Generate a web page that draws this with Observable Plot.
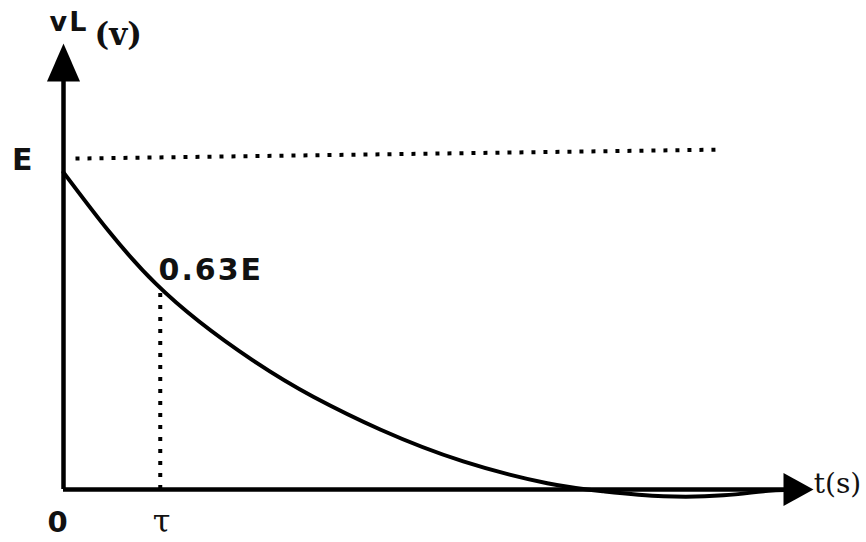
<!DOCTYPE html>
<html>
<head>
<meta charset="utf-8">
<script src="https://cdn.jsdelivr.net/npm/d3@7"></script>
<script src="https://cdn.jsdelivr.net/npm/@observablehq/plot@0.6"></script>
<style>
  html, body { margin: 0; padding: 0; background: #fff; }
  svg { display: block; overflow: visible; }
  .lbl text { letter-spacing: 2px; }
</style>
</head>
<body>
<div id="chart"></div>
<script>
// Curve samples (t, vL) in arbitrary units (t: 0..100, v: 0..100)
const tValues  = [0, 12.27, 25.2, 33.3, 42.3, 53.3, 64.5, 72, 80, 88, 94, 99];
const vValues  = [71.1, 46.2, 29.0, 20.8, 13.4, 6.3, 1.4, -0.4, -1.5, -1.3, -0.3, 0];
const E_start  = {t: 1.6, v: 74.2};
const E_end    = {t: 87.3, v: 76.2};
const tau      = 12.9;
const tauV     = 45.1;
const yAxisTop = 100;
const xAxisEnd = 100;

const curve = tValues.map((t, i) => ({t, v: vValues[i]}));

const upArrow = {draw(ctx) { ctx.moveTo(0, 0); ctx.lineTo(-16.5, 38); ctx.lineTo(16.5, 38); ctx.closePath(); }};
const rightArrow = {draw(ctx) { ctx.moveTo(0, 0); ctx.lineTo(-30, -16.5); ctx.lineTo(-30, 16.5); ctx.closePath(); }};

const sans = "DejaVu Sans";
const serif = "DejaVu Serif";

const chart = Plot.plot({
  width: 866,
  height: 542,
  marginLeft: 63,
  marginRight: 53,
  marginTop: 43,
  marginBottom: 53,
  x: {domain: [0, 100], axis: null},
  y: {domain: [0, 100], axis: null},
  marks: [
    // dotted E level
    Plot.line([E_start, E_end], {x: "t", y: "v", stroke: "black", strokeWidth: 4, strokeDasharray: "4,8", strokeLinecap: "butt"}),
    // dotted tau drop line
    Plot.ruleX([tau], {y1: 0, y2: tauV, stroke: "black", strokeWidth: 4, strokeDasharray: "4,8"}),
    // curve
    Plot.line(curve, {x: "t", y: "v", curve: "natural", stroke: "black", strokeWidth: 4}),
    // axes
    Plot.ruleX([0], {y1: 0, y2: 93, stroke: "black", strokeWidth: 4.5}),
    Plot.ruleY([0], {x1: 0, x2: 97, stroke: "black", strokeWidth: 4.5}),
    Plot.dot([{t: 0, v: yAxisTop}], {x: "t", y: "v", symbol: upArrow, fill: "black", stroke: "none"}),
    Plot.dot([{t: xAxisEnd, v: 0}], {x: "t", y: "v", symbol: rightArrow, fill: "black", stroke: "none"}),
    // labels
    Plot.text(["E"], {x: -5.5, y: 73.8, fontFamily: sans, fontWeight: "bold", fontSize: 30, fill: "#111", textAnchor: "middle", lineAnchor: "middle"}),
    Plot.text(["0"], {x: -0.8, y: -7.4, fontFamily: sans, fontWeight: "bold", fontSize: 29, fill: "#111", textAnchor: "middle", lineAnchor: "middle"}),
    Plot.text(["τ"], {x: 13.07, y: -7.2, fontFamily: serif, fontSize: 32, fill: "#111", textAnchor: "middle", lineAnchor: "middle"}),
    Plot.text(["0.63E"], {x: 12.67, y: 49.1, fontFamily: sans, fontWeight: "bold", fontSize: 30, fill: "#111", textAnchor: "start", lineAnchor: "middle", className: "lbl"}),
    Plot.text(["vL"], {x: 0.73, y: 104.8, fontFamily: sans, fontWeight: "bold", fontSize: 27, fill: "#111", textAnchor: "middle", lineAnchor: "middle", className: "lbl"}),
    Plot.text(["(v)"], {x: 7.3, y: 102.0, fontFamily: serif, fontWeight: "bold", fontSize: 31, fill: "#111", textAnchor: "middle", lineAnchor: "middle"}),
    Plot.text(["t(s)"], {x: 103.2, y: 1.3, fontFamily: serif, fontSize: 28, fill: "#111", textAnchor: "middle", lineAnchor: "middle"})
  ]
});
document.getElementById("chart").appendChild(chart);
</script>
</body>
</html>
